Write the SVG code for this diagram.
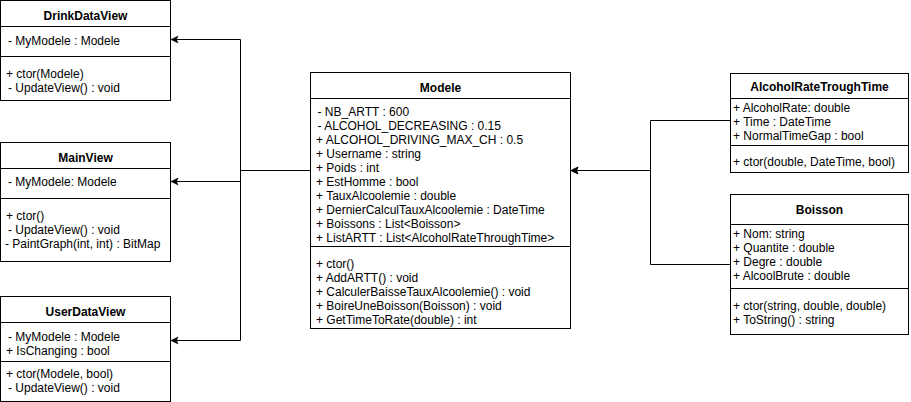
<svg xmlns="http://www.w3.org/2000/svg" width="911" height="402" viewBox="0 0 911 402">
<style>
  .box{fill:#ffffff;stroke:#000000;stroke-width:1}
  .sep{stroke:#000000;stroke-width:1;fill:none}
  .title{font-family:"Liberation Sans",Arial,sans-serif;font-size:12px;font-weight:bold;text-anchor:middle;fill:#000}
  .t{font-family:"Liberation Sans",Arial,sans-serif;font-size:12px;fill:#000}
  .edge{fill:none;stroke:#000000;stroke-width:1;marker-end:url(#arr)}
</style>
<defs>
  <marker id="arr" markerUnits="userSpaceOnUse" markerWidth="8" markerHeight="8" refX="7" refY="3.5" orient="auto" overflow="visible">
    <path d="M0,0 L7,3.5 L0,7 L1.5,3.5 Z" fill="#000" stroke="#000" stroke-width="0.5"/>
  </marker>
</defs>
<rect width="911" height="402" fill="#ffffff"/>

<g id="connectors">
  <path class="edge" d="M310.5,170.5 H240.5 V39.5 H171"/>
  <path class="edge" d="M310.5,170.5 H240.5 V181.5 H171"/>
  <path class="edge" d="M310.5,170.5 H240.5 V340.5 H171"/>
  <path class="edge" d="M730.5,120.5 H650.5 V170.5 H571"/>
  <path class="edge" d="M730.5,264.5 H650.5 V170.5 H571"/>
</g>

<g id="DrinkDataView">
  <rect class="box" x="0.5" y="0.5" width="170" height="100"/>
  <line class="sep" x1="0.5" y1="26.5" x2="170.5" y2="26.5"/>
  <line class="sep" x1="0.5" y1="56.5" x2="170.5" y2="56.5"/>
  <text class="title" x="85.5" y="19.5">DrinkDataView</text>
  <text class="t" x="8" y="44.5">- MyModele : Modele</text>
  <text class="t" x="6" y="77.5">+ ctor(Modele)</text>
  <text class="t" x="8" y="91.5">- UpdateView() : void</text>
</g>

<g id="MainView">
  <rect class="box" x="0.5" y="142.5" width="170" height="119"/>
  <line class="sep" x1="0.5" y1="168.5" x2="170.5" y2="168.5"/>
  <line class="sep" x1="0.5" y1="198.5" x2="170.5" y2="198.5"/>
  <text class="title" x="85.5" y="162">MainView</text>
  <text class="t" x="8" y="186">- MyModele: Modele</text>
  <text class="t" x="6" y="220">+ ctor()</text>
  <text class="t" x="8" y="234">- UpdateView() : void</text>
  <text class="t" x="5" y="248">- PaintGraph(int, int) : BitMap</text>
</g>

<g id="UserDataView">
  <rect class="box" x="0.5" y="296.5" width="170" height="105"/>
  <line class="sep" x1="0.5" y1="322.5" x2="170.5" y2="322.5"/>
  <line class="sep" x1="0.5" y1="361.5" x2="170.5" y2="361.5"/>
  <text class="title" x="85.5" y="315.5">UserDataView</text>
  <text class="t" x="8" y="341">- MyModele : Modele</text>
  <text class="t" x="6" y="355">+ IsChanging : bool</text>
  <text class="t" x="6" y="378">+ ctor(Modele, bool)</text>
  <text class="t" x="8" y="392">- UpdateView() : void</text>
</g>

<g id="Modele">
  <rect class="box" x="310.5" y="72.5" width="260" height="256"/>
  <line class="sep" x1="310.5" y1="98.5" x2="570.5" y2="98.5"/>
  <line class="sep" x1="310.5" y1="246.5" x2="570.5" y2="246.5"/>
  <text class="title" x="440.5" y="92">Modele</text>
  <text class="t" x="317.5" y="116">- NB_ARTT : 600</text>
  <text class="t" x="317.5" y="130">- ALCOHOL_DECREASING : 0.15</text>
  <text class="t" x="316" y="144">+ ALCOHOL_DRIVING_MAX_CH : 0.5</text>
  <text class="t" x="316" y="158">+ Username : string</text>
  <text class="t" x="316" y="172">+ Poids : int</text>
  <text class="t" x="316" y="186">+ EstHomme : bool</text>
  <text class="t" x="316" y="200">+ TauxAlcoolemie : double</text>
  <text class="t" x="316" y="214">+ DernierCalculTauxAlcoolemie : DateTime</text>
  <text class="t" x="316" y="228">+ Boissons : List&lt;Boisson&gt;</text>
  <text class="t" x="316" y="242">+ ListARTT : List&lt;AlcoholRateThroughTime&gt;</text>
  <text class="t" x="316" y="268">+ ctor()</text>
  <text class="t" x="316" y="282">+ AddARTT() : void</text>
  <text class="t" x="316" y="296">+ CalculerBaisseTauxAlcoolemie() : void</text>
  <text class="t" x="316" y="310">+ BoireUneBoisson(Boisson) : void</text>
  <text class="t" x="316" y="324">+ GetTimeToRate(double) : int</text>
</g>

<g id="AlcoholRateTroughTime">
  <rect class="box" x="730.5" y="73.5" width="178" height="99"/>
  <line class="sep" x1="730.5" y1="98.5" x2="908.5" y2="98.5"/>
  <line class="sep" x1="730.5" y1="145.5" x2="908.5" y2="145.5"/>
  <text class="title" x="819.5" y="91">AlcoholRateTroughTime</text>
  <text class="t" x="733" y="112">+ AlcoholRate: double</text>
  <text class="t" x="733" y="126">+ Time : DateTime</text>
  <text class="t" x="733" y="140">+ NormalTimeGap : bool</text>
  <text class="t" x="733" y="166">+ ctor(double, DateTime, bool)</text>
</g>

<g id="Boisson">
  <rect class="box" x="730.5" y="194.5" width="178" height="140"/>
  <line class="sep" x1="730.5" y1="224.5" x2="908.5" y2="224.5"/>
  <line class="sep" x1="730.5" y1="288.5" x2="908.5" y2="288.5"/>
  <text class="title" x="819.5" y="213.5">Boisson</text>
  <text class="t" x="733" y="237.5">+ Nom: string</text>
  <text class="t" x="733" y="251.5">+ Quantite : double</text>
  <text class="t" x="733" y="265.5">+ Degre : double</text>
  <text class="t" x="733" y="279.5">+ AlcoolBrute : double</text>
  <text class="t" x="733" y="310">+ ctor(string, double, double)</text>
  <text class="t" x="733" y="324">+ ToString() : string</text>
</g>
</svg>
